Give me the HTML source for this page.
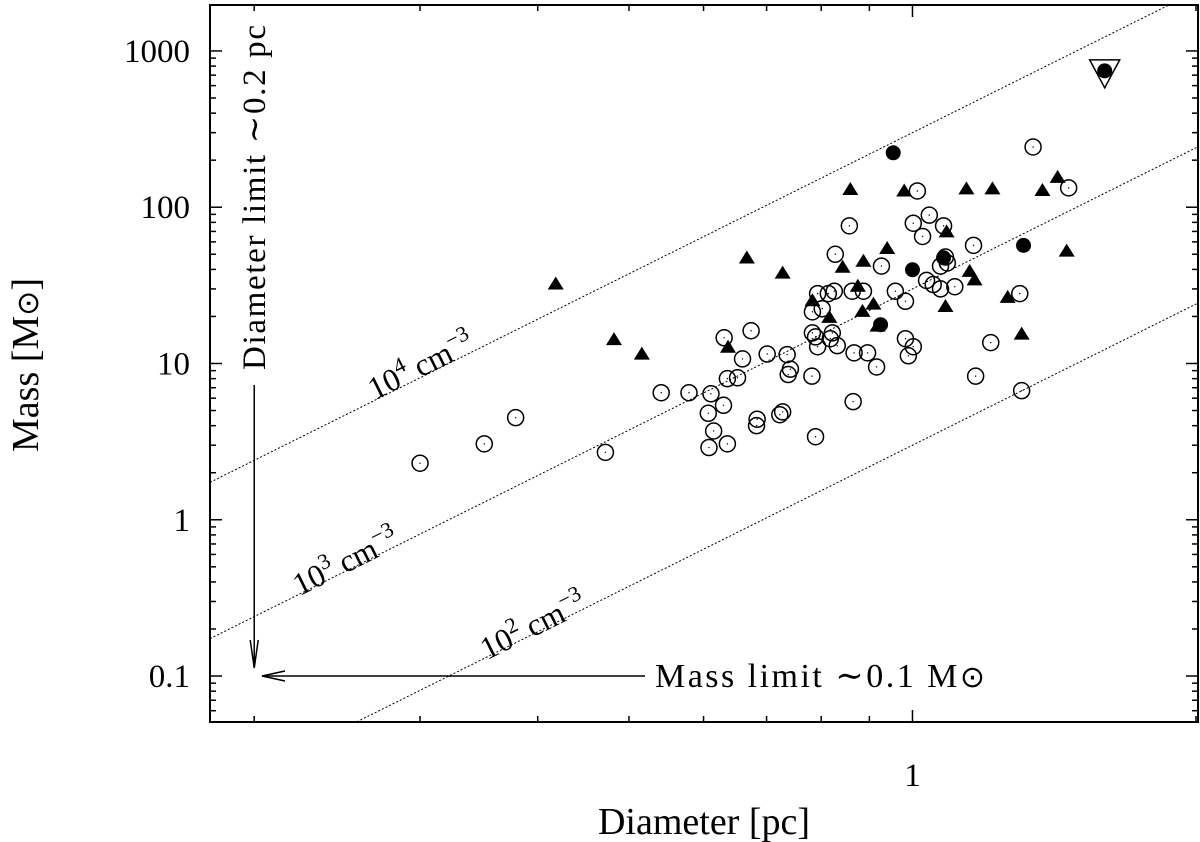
<!DOCTYPE html>
<html><head><meta charset="utf-8">
<style>
html,body{margin:0;padding:0;background:#fff;}
svg{display:block;font-family:"Liberation Serif","DejaVu Serif",serif;}
</style></head>
<body>
<svg id="chart" width="1200" height="842" viewBox="0 0 1200 842" xmlns="http://www.w3.org/2000/svg">
<rect x="0" y="0" width="1200" height="842" fill="#fff"/>
<g id="grid"></g>
<g id="marks"></g>
<g id="annot"></g>
<rect x="210" y="5" width="988" height="717" fill="none" stroke="#000" stroke-width="2"/>
<g id="ticks"></g>
</svg>
<script>
// x axis (diameter, pc) and y axis (mass, Msun) ranges
const xDomain = [0.1795, 2.01];
const yDomain = [0.0508, 1968];
const xTickMajor = [1];
const xTickMinor = [0.2,0.3,0.4,0.5,0.6,0.7,0.8,0.9,2];
const yTickMajor = [0.1,1,10,100,1000];
const yTickLabels = ["0.1","1","10","100","1000"];
const densityCoef = [300,30,3];
const densityLabels = ["4","3","2"];
const diameterLimit = [0.2];
const massLimit = [0.1];

const openD = [0.30,0.351,0.379,0.472,0.541,1.012,1.042,1.002,1.025,0.857,0.828,0.927,0.959,0.983,1.035,0.793,0.814,0.826,0.783,0.802,0.887,0.783,0.789,0.822,0.818,0.832,0.793,0.896,0.916,0.983,1.002,0.990,0.674,0.631,0.660,0.701,0.736,0.742,0.738,0.782,0.636,0.652,0.579,0.611,0.630,0.607,0.684,0.683,0.723,0.728,0.865,0.615,0.608,0.636,0.789,1.343,1.465,1.079,1.161,1.084,1.089,1.071,1.052,1.071,1.109,1.300,1.211,1.167,1.306,0.867,0.863];
const openM = [2.3,3.06,4.5,2.7,6.5,127,89,79,65,76,50,42,29,25,34,28,28,29,21.4,22.4,29,15.7,14.8,15.7,14.4,13,12.8,11.7,9.5,14.4,12.8,11.2,16.2,14.6,10.7,11.5,11.4,9.2,8.5,8.3,8.0,8.1,6.5,6.4,5.4,4.8,4.4,4.0,4.7,4.9,5.7,3.7,2.9,3.06,3.4,243,133,76,57,48,44,42,32,30,31,28,13.6,8.3,6.7,11.7,29];
const triD = [0.418,0.482,0.516,0.859,0.98,0.667,0.728,0.940,0.887,0.843,0.875,0.783,0.909,0.885,0.816,0.637,0.918,1.141,1.216,1.374,1.426,1.087,1.458,1.15,1.164,1.262,1.084,1.306];
const triM = [32,14.1,11.4,129,126,47,37.6,54,44.8,41,31,25,23.8,21.4,19.6,12.6,17.2,130,130,127,154,69,52,38.6,34,26.3,23,15.3];
const filledD = [0.954,1.0,1.079,1.312,0.925,1.60];
const filledM = [223,39.8,47.5,57,17.7,746];
const upperD = [1.60];
const upperM = [735];

const X0=210,X1=1198,Y0=722,Y1=5;
const NS="http://www.w3.org/2000/svg";
function sx(v){return X0+(Math.log10(v)-Math.log10(xDomain[0]))/(Math.log10(xDomain[1])-Math.log10(xDomain[0]))*(X1-X0);}
function sy(v){return Y0-(Math.log10(v)-Math.log10(yDomain[0]))/(Math.log10(yDomain[1])-Math.log10(yDomain[0]))*(Y0-Y1);}
function mk(tag,attrs,parent){const e=document.createElementNS(NS,tag);for(const k in attrs)e.setAttribute(k,attrs[k]);parent.appendChild(e);return e;}
const ticks=document.getElementById('ticks'),marks=document.getElementById('marks'),annot=document.getElementById('annot'),grid=document.getElementById('grid');

// x ticks
xTickMajor.forEach(v=>{const x=sx(v);
 let t=mk('line',{x1:x,y1:Y0,x2:x,y2:Y0-12,stroke:'#000','stroke-width':1.5},ticks);
 
 mk('line',{x1:x,y1:Y1,x2:x,y2:Y1+12,stroke:'#000','stroke-width':1.5},ticks);
 let l=mk('text',{x:x,y:786,'font-size':33,'text-anchor':'middle'},ticks);l.textContent=String(v);
 });
xTickMinor.forEach(v=>{const x=sx(v);
 let t=mk('line',{x1:x,y1:Y0,x2:x,y2:Y0-6,stroke:'#000','stroke-width':1.5},ticks);
 
 mk('line',{x1:x,y1:Y1,x2:x,y2:Y1+6,stroke:'#000','stroke-width':1.5},ticks);});
// y ticks
yTickMajor.forEach((v,i)=>{const y=sy(v);
 let t=mk('line',{x1:X0,y1:y,x2:X0+12,y2:y,stroke:'#000','stroke-width':1.5},ticks);
 
 mk('line',{x1:X1,y1:y,x2:X1-12,y2:y,stroke:'#000','stroke-width':1.5},ticks);
 let l=mk('text',{x:190,y:y+11,'font-size':33,'text-anchor':'end'},ticks);l.textContent=yTickLabels[i];
 
 for(let k=2;k<=9;k++){const vv=v*k;if(vv>yDomain[1])break;const yy=sy(vv);
  mk('line',{x1:X0,y1:yy,x2:X0+6,y2:yy,stroke:'#000','stroke-width':1.5},ticks);
  mk('line',{x1:X1,y1:yy,x2:X1-6,y2:yy,stroke:'#000','stroke-width':1.5},ticks);}
});
for(let k=6;k<=9;k++){const yy=sy(0.01*k);mk('line',{x1:X0,y1:yy,x2:X0+6,y2:yy,stroke:'#000','stroke-width':1.5},ticks);mk('line',{x1:X1,y1:yy,x2:X1-6,y2:yy,stroke:'#000','stroke-width':1.5},ticks);}

// density lines (M = c * D^3)
const clip=mk('clipPath',{id:'pc'},grid);mk('rect',{x:X0,y:Y1,width:X1-X0,height:Y0-Y1},clip);
densityCoef.forEach((c,i)=>{const d0=xDomain[0],d1=xDomain[1];
 let l=mk('line',{x1:sx(d0),y1:sy(c*d0*d0*d0),x2:sx(d1),y2:sy(c*d1*d1*d1),stroke:'#000','stroke-width':1,'stroke-dasharray':'2,2','clip-path':'url(#pc)'},grid);
 });
const ang=-Math.atan(3*(Y0-Y1)/(Math.log10(yDomain[1])-Math.log10(yDomain[0]))/((X1-X0)/(Math.log10(xDomain[1])-Math.log10(xDomain[0]))))*180/Math.PI;
const labPos=[[0.304,375],[0.253,571],[0.40,635]];
labPos.forEach((p,i)=>{const x=sx(p[0]),y=p[1];
 const t=mk('text',{x:x,y:y,'font-size':32,'text-anchor':'middle',transform:`rotate(${ang} ${x} ${y})`},annot);
 
 t.innerHTML=`10<tspan dy="-13" font-size="22">${densityLabels[i]}</tspan><tspan dy="13"> cm</tspan><tspan dy="-13" font-size="22">−3</tspan>`;});

// limit arrows
const dlx=sx(diameterLimit[0]),mly=sy(massLimit[0]);
let a1=mk('line',{x1:dlx,y1:385,x2:dlx,y2:668,stroke:'#000','stroke-width':1.5},annot);

mk('polyline',{points:`${dlx-4},640 ${dlx},668 ${dlx+4},640`,fill:'none',stroke:'#000','stroke-width':1.5},annot);
let a2=mk('line',{x1:645,y1:mly,x2:262,y2:mly,stroke:'#000','stroke-width':1.5},annot);

mk('polyline',{points:`285,${mly-5} 262,${mly} 285,${mly+5}`,fill:'none',stroke:'#000','stroke-width':1.5},annot);
let dl=mk('text',{x:dlx+11,y:370,'font-size':33,'textLength':345,transform:`rotate(-90 ${dlx+11} 370)`},annot);
dl.textContent='Diameter limit ∼0.2 pc';
let ml=mk('text',{x:655,y:mly+11,'font-size':34,'textLength':330},annot);
ml.innerHTML='Mass limit ∼0.1 M<tspan font-family="DejaVu Sans" font-size="30">⊙</tspan>';

// axis titles
let xt=mk('text',{x:704,y:834,'font-size':38,'text-anchor':'middle'},annot);xt.textContent='Diameter [pc]';

let yt=mk('text',{x:38,y:365,'font-size':38,'text-anchor':'middle',transform:'rotate(-90 38 365)'},annot);
yt.innerHTML='Mass [M<tspan font-family="DejaVu Sans" font-size="30">⊙</tspan>]';


// markers
openD.forEach((d,i)=>{const x=sx(d),y=sy(openM[i]);
 const c=mk('circle',{cx:x,cy:y,r:8,fill:'none',stroke:'#000','stroke-width':1.5},marks);
 
 mk('circle',{cx:x,cy:y,r:0.7,fill:'#000'},marks);});
triD.forEach((d,i)=>{const x=sx(d),y=sy(triM[i]);
 const t=mk('polygon',{points:`${x},${y-8} ${x-8},${y+5} ${x+8},${y+5}`,fill:'#000'},marks);
 });
filledD.forEach((d,i)=>{const c=mk('circle',{cx:sx(d),cy:sy(filledM[i]),r:7.5,fill:'#000'},marks);
 });
upperD.forEach((d,i)=>{const x=sx(d),y=sy(upperM[i]);
 const t=mk('polygon',{points:`${x-15},${y-12} ${x+15},${y-12} ${x},${y+16}`,fill:'none',stroke:'#000','stroke-width':1.5},marks);
 });
</script>
</body></html>
